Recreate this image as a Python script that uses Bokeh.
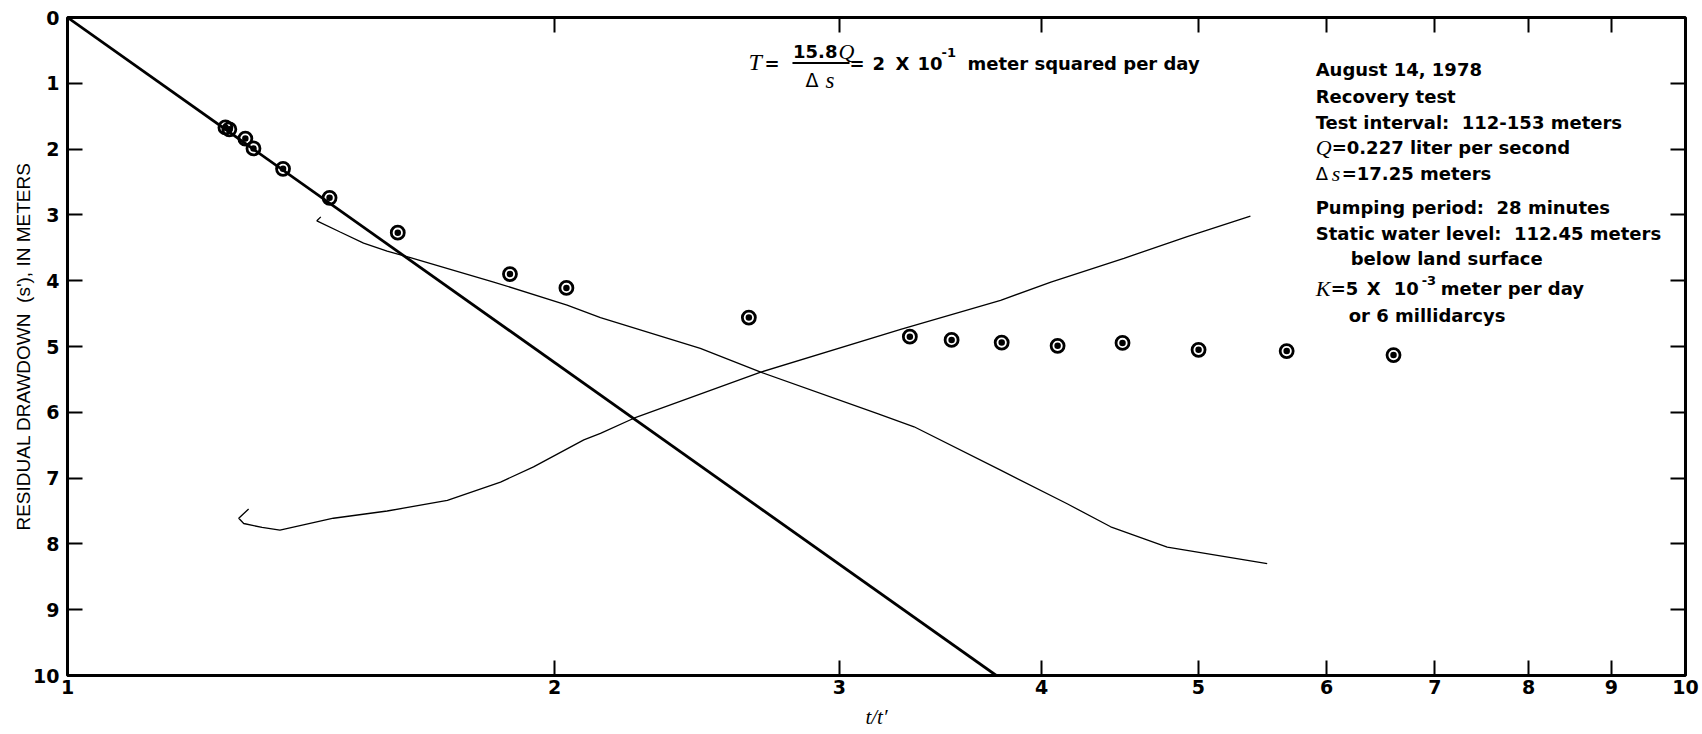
from bokeh.plotting import figure
from bokeh.models import (Range1d, FixedTicker, LinearAxis, LogAxis, Label,
                          BasicTickFormatter, CustomJSTickFormatter)
from bokeh.embed import file_html
from bokeh.resources import INLINE

# ---- data ----
obs_ratio = [1.252, 1.259, 1.288, 1.303, 1.359, 1.452, 1.600, 1.877, 2.034, 2.637,
             3.316, 3.519, 3.779, 4.092, 4.488, 5.001, 5.669, 6.60]
obs_drawdown = [1.67, 1.70, 1.84, 1.99, 2.30, 2.74, 3.27, 3.90, 4.11, 4.56,
                4.85, 4.90, 4.94, 4.99, 4.945, 5.05, 5.07, 5.13]

fit_ratio = [1.0, 3.75]
fit_drawdown = [0.0, 10.0]

curve_a_ratio = [1.434, 1.426, 1.474, 1.524, 1.576, 1.629, 1.834, 2.036, 2.135, 2.461,
                 2.682, 3.167, 3.336, 3.773, 4.148, 4.413, 4.783, 5.514]
curve_a_drawdown = [3.03, 3.09, 3.26, 3.43, 3.55, 3.65, 4.02, 4.37, 4.56, 5.03,
                    5.39, 6.02, 6.22, 6.88, 7.39, 7.74, 8.05, 8.30]

curve_b_ratio = [1.294, 1.276, 1.285, 1.319, 1.353, 1.460, 1.576, 1.717, 1.852, 1.941,
                 2.085, 2.135, 2.239, 2.682, 3.273, 3.773, 4.053, 4.497, 4.921, 5.384]
curve_b_drawdown = [7.47, 7.61, 7.69, 7.75, 7.79, 7.61, 7.50, 7.34, 7.06, 6.83,
                    6.42, 6.32, 6.09, 5.39, 4.74, 4.30, 4.02, 3.66, 3.33, 3.02]

x_ticks = [1, 2, 3, 4, 5, 6, 7, 8, 9, 10]
y_ticks = [0, 1, 2, 3, 4, 5, 6, 7, 8, 9, 10]

TICK_FONT = "DejaVu Sans"
TEXT_FONT = "DejaVu Sans"
NB = "\u00a0"

p = figure(width=1702, height=734, x_axis_type="log",
           x_range=Range1d(1, 10), y_range=Range1d(10, 0),
           output_backend="svg", toolbar_location=None,
           min_border_left=67, min_border_right=17,
           min_border_top=17, min_border_bottom=59)
p.grid.visible = False
p.outline_line_color = "black"
p.outline_line_width = 3
p.background_fill_color = "white"
p.border_fill_color = "white"

def style_axis(ax, labels=True):
    ax.axis_line_color = None
    ax.major_tick_in = 15
    ax.major_tick_out = 0
    ax.major_tick_line_width = 2
    ax.major_tick_line_color = "black"
    ax.minor_tick_line_color = None
    if labels:
        ax.major_label_text_font = TICK_FONT
        ax.major_label_text_font_style = "bold"
        ax.major_label_text_font_size = "19px"
        ax.major_label_text_color = "black"
    else:
        ax.formatter = CustomJSTickFormatter(code="return ''")
        ax.major_label_standoff = 0

xa = p.xaxis[0]
xa.ticker = FixedTicker(ticks=x_ticks)
xa.formatter = BasicTickFormatter()
style_axis(xa)
xa.major_label_standoff = 4
xa.axis_label = "t/t\u2032"
xa.axis_label_text_font = "Liberation Serif"
xa.axis_label_text_font_style = "italic"
xa.axis_label_text_font_size = "21px"
xa.axis_label_text_color = "black"
xa.axis_label_standoff = 8

ya = p.yaxis[0]
ya.ticker = FixedTicker(ticks=y_ticks)
style_axis(ya)
ya.major_label_standoff = 8
ya.axis_label = "RESIDUAL DRAWDOWN" + NB + NB + "(s'), IN METERS"
ya.axis_label_text_font = "Liberation Sans"
ya.axis_label_text_font_style = "normal"
ya.axis_label_text_font_size = "19px"
ya.axis_label_text_color = "black"
ya.axis_label_standoff = -4

top = LogAxis(ticker=FixedTicker(ticks=x_ticks[1:-1]))
style_axis(top, labels=False)
p.add_layout(top, "above")

right = LinearAxis(ticker=FixedTicker(ticks=y_ticks[1:-1]))
style_axis(right, labels=False)
p.add_layout(right, "right")

# ---- marks ----
p.line(fit_ratio, fit_drawdown, line_color="black", line_width=2.8)
p.line(curve_a_ratio, curve_a_drawdown, line_color="black", line_width=1.3)
p.line(curve_b_ratio, curve_b_drawdown, line_color="black", line_width=1.3)
p.scatter(obs_ratio, obs_drawdown, marker="circle", size=13, fill_color=None,
          line_color="black", line_width=2.8)
p.scatter(obs_ratio, obs_drawdown, marker="circle", size=6.5, fill_color="black",
          line_color=None)

# ---- annotation text (placed in reference pixel space) ----
L_PX, R_PX, T_PX, B_PX = 67.3, 1684.7, 17.4, 675.2

def dx(xp):
    return 10 ** ((xp - L_PX) / (R_PX - L_PX))

def dy(yp):
    return (yp - T_PX) / (B_PX - T_PX) * 10

def note(xp, yp, text, size=18, style="bold", font=TEXT_FONT, align="left"):
    p.add_layout(Label(x=dx(xp), y=dy(yp), text=text, text_font=font,
                       text_font_size=f"{size}px", text_font_style=style,
                       text_baseline="middle", text_align=align,
                       text_color="black"))

# equation
note(748, 62, "T", size=24, style="italic", font="Liberation Serif")
note(764, 63, "=", size=18)
note(837, 51, "15.8", size=18, align="right")
note(838, 51, "Q", size=22, style="italic", font="Liberation Serif")
p.segment(x0=[dx(792)], y0=[dy(63)], x1=[dx(849)], y1=[dy(63)],
          line_color="black", line_width=2)
note(805, 80, "\u0394", size=19, style="normal")
note(825, 80, "s", size=23, style="italic", font="Liberation Serif")
note(849, 63, "=", size=18)
note(872, 63, "2", size=18)
note(895, 63, "X", size=18)
note(917, 63, "10", size=18)
note(941, 52, "-1", size=13)
note(967, 63, "meter squared per day", size=18)

# info block
LX = 1315
IX = 1350
note(LX, 69, "August 14, 1978")
note(LX, 96, "Recovery test")
note(LX, 122, "Test interval:" + NB + NB + "112-153 meters")
note(LX, 147, "Q", size=22, style="italic", font="Liberation Serif")
note(1331, 147, "=0.227 liter per second")
note(LX, 173, "\u0394", style="normal")
note(1331, 173, "s", size=22, style="italic", font="Liberation Serif")
note(1341, 173, "=17.25 meters")
note(LX, 207, "Pumping period:" + NB + NB + "28 minutes")
note(LX, 233, "Static water level:" + NB + NB + "112.45 meters")
note(IX, 258, "below land surface")
note(LX, 288, "K", size=22, style="italic", font="Liberation Serif")
note(1330, 288, "=5")
note(1366, 288, "X")
note(1393, 288, "10")
note(1421, 280, "-3", size=13)
note(1440, 288, "meter per day")
note(1348, 315, "or 6 millidarcys")

open("out.html", "w").write(file_html(p, INLINE))
